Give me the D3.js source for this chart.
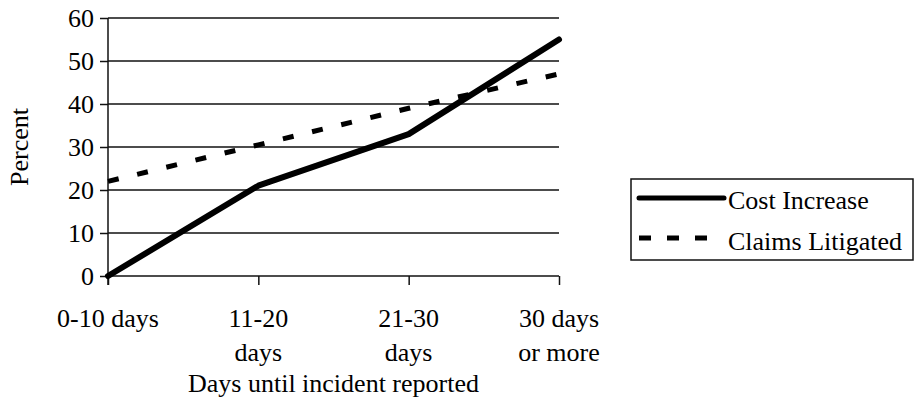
<!DOCTYPE html>
<html>
<head>
<meta charset="utf-8">
<script src="https://cdn.jsdelivr.net/npm/d3@7"></script>
<style>
  html, body { margin: 0; padding: 0; background: #fff; }
  svg { display: block; font-family: "Liberation Serif", "Times New Roman", serif; }
</style>
</head>
<body>
<svg id="chart" width="914" height="402"></svg>
<script>
// Report delay categories (each label may wrap onto two lines)
const categories = ["0-10 days", "11-20 days", "21-30 days", "30 days or more"];
const categoryLines = [["0-10 days"], ["11-20", "days"], ["21-30", "days"], ["30 days", "or more"]];

// Percent values per series
const costIncrease = [0, 21, 33, 55];
const claimsLitigated = [22, 30.5, 39, 47];

const seriesNames = ["Cost Increase", "Claims Litigated"];
const yTicks = [0, 10, 20, 30, 40, 50, 60];

const svg = d3.select("#chart");
const margin = { left: 108, right: 355, top: 18, bottom: 126 };
const width = 914, height = 402;

const x = d3.scalePoint().domain(categories).range([margin.left, width - margin.right]);
const y = d3.scaleLinear().domain([0, 60]).range([height - margin.bottom, margin.top]);

const fontSize = 26;

// Horizontal gridlines with small ticks to the left of the axis
const yAxis = d3.axisLeft(y).tickValues(yTicks).tickSize(8).tickPadding(6).tickFormat(d3.format("d"));
const gy = svg.append("g").attr("transform", `translate(${margin.left},0)`).call(yAxis);
gy.select(".domain").remove();
gy.selectAll(".tick line").attr("stroke", "#111").attr("stroke-width", 1.5);
gy.selectAll(".tick text").attr("font-size", fontSize).attr("fill", "#000").attr("font-family", "Liberation Serif");

svg.append("g").selectAll("line.grid")
  .data(yTicks)
  .join("line")
  .attr("x1", margin.left).attr("x2", x(categories[categories.length - 1]))
  .attr("y1", d => y(d)).attr("y2", d => y(d))
  .attr("stroke", "#111").attr("stroke-width", 1.5);

// Vertical axis line
svg.append("line")
  .attr("x1", margin.left).attr("x2", margin.left)
  .attr("y1", y(60)).attr("y2", y(0) + 9)
  .attr("stroke", "#111").attr("stroke-width", 1.5);

// Category axis: ticks below the baseline, labels on one or two lines
const xAxis = d3.axisBottom(x).tickSize(9).tickFormat("");
const gx = svg.append("g").attr("transform", `translate(0,${y(0)})`).call(xAxis);
gx.select(".domain").remove();
gx.selectAll(".tick line").attr("stroke", "#111").attr("stroke-width", 1.5);

const labels = svg.append("g").selectAll("text.cat")
  .data(categories)
  .join("text")
  .attr("text-anchor", "middle")
  .attr("font-size", fontSize)
  .attr("fill", "#000");
labels.each(function(d, i) {
  d3.select(this).selectAll("tspan")
    .data(categoryLines[i])
    .join("tspan")
    .attr("x", x(d))
    .attr("y", (t, j) => 327 + j * 34)
    .text(t => t);
});

// Axis titles
svg.append("text")
  .attr("x", (margin.left + x(categories[3])) / 2)
  .attr("y", 392)
  .attr("text-anchor", "middle")
  .attr("font-size", fontSize)
  .text("Days until incident reported");

svg.append("text")
  .attr("transform", `translate(28,${(y(0) + y(60)) / 2}) rotate(-90)`)
  .attr("text-anchor", "middle")
  .attr("font-size", fontSize)
  .text("Percent");

// Series lines
const line = d3.line().x((d, i) => x(categories[i])).y(d => y(d));

svg.append("path")
  .datum(claimsLitigated)
  .attr("d", line)
  .attr("fill", "none")
  .attr("stroke", "#000")
  .attr("stroke-width", 5)
  .attr("stroke-dasharray", "11,19");

svg.append("path")
  .datum(costIncrease)
  .attr("d", line)
  .attr("fill", "none")
  .attr("stroke", "#000")
  .attr("stroke-width", 6)
  .attr("stroke-linecap", "round")
  .attr("stroke-linejoin", "round");

// Legend
const legend = svg.append("g");
legend.append("rect")
  .attr("x", 631).attr("y", 179)
  .attr("width", 282).attr("height", 81)
  .attr("fill", "#fff").attr("stroke", "#111").attr("stroke-width", 1.5);

const legendRows = [
  { name: seriesNames[0], dash: null, lineY: 198, textY: 209 },
  { name: seriesNames[1], dash: "12,16", lineY: 238, textY: 250 }
];
legendRows.forEach(r => {
  legend.append("line")
    .attr("x1", 639).attr("x2", r.dash ? 714 : 724)
    .attr("y1", r.lineY).attr("y2", r.lineY)
    .attr("stroke", "#000")
    .attr("stroke-width", r.dash ? 5 : 5)
    .attr("stroke-linecap", r.dash ? "butt" : "round")
    .attr("stroke-dasharray", r.dash);
  legend.append("text")
    .attr("x", 728).attr("y", r.textY)
    .attr("font-size", fontSize)
    .text(r.name);
});
</script>
</body>
</html>
